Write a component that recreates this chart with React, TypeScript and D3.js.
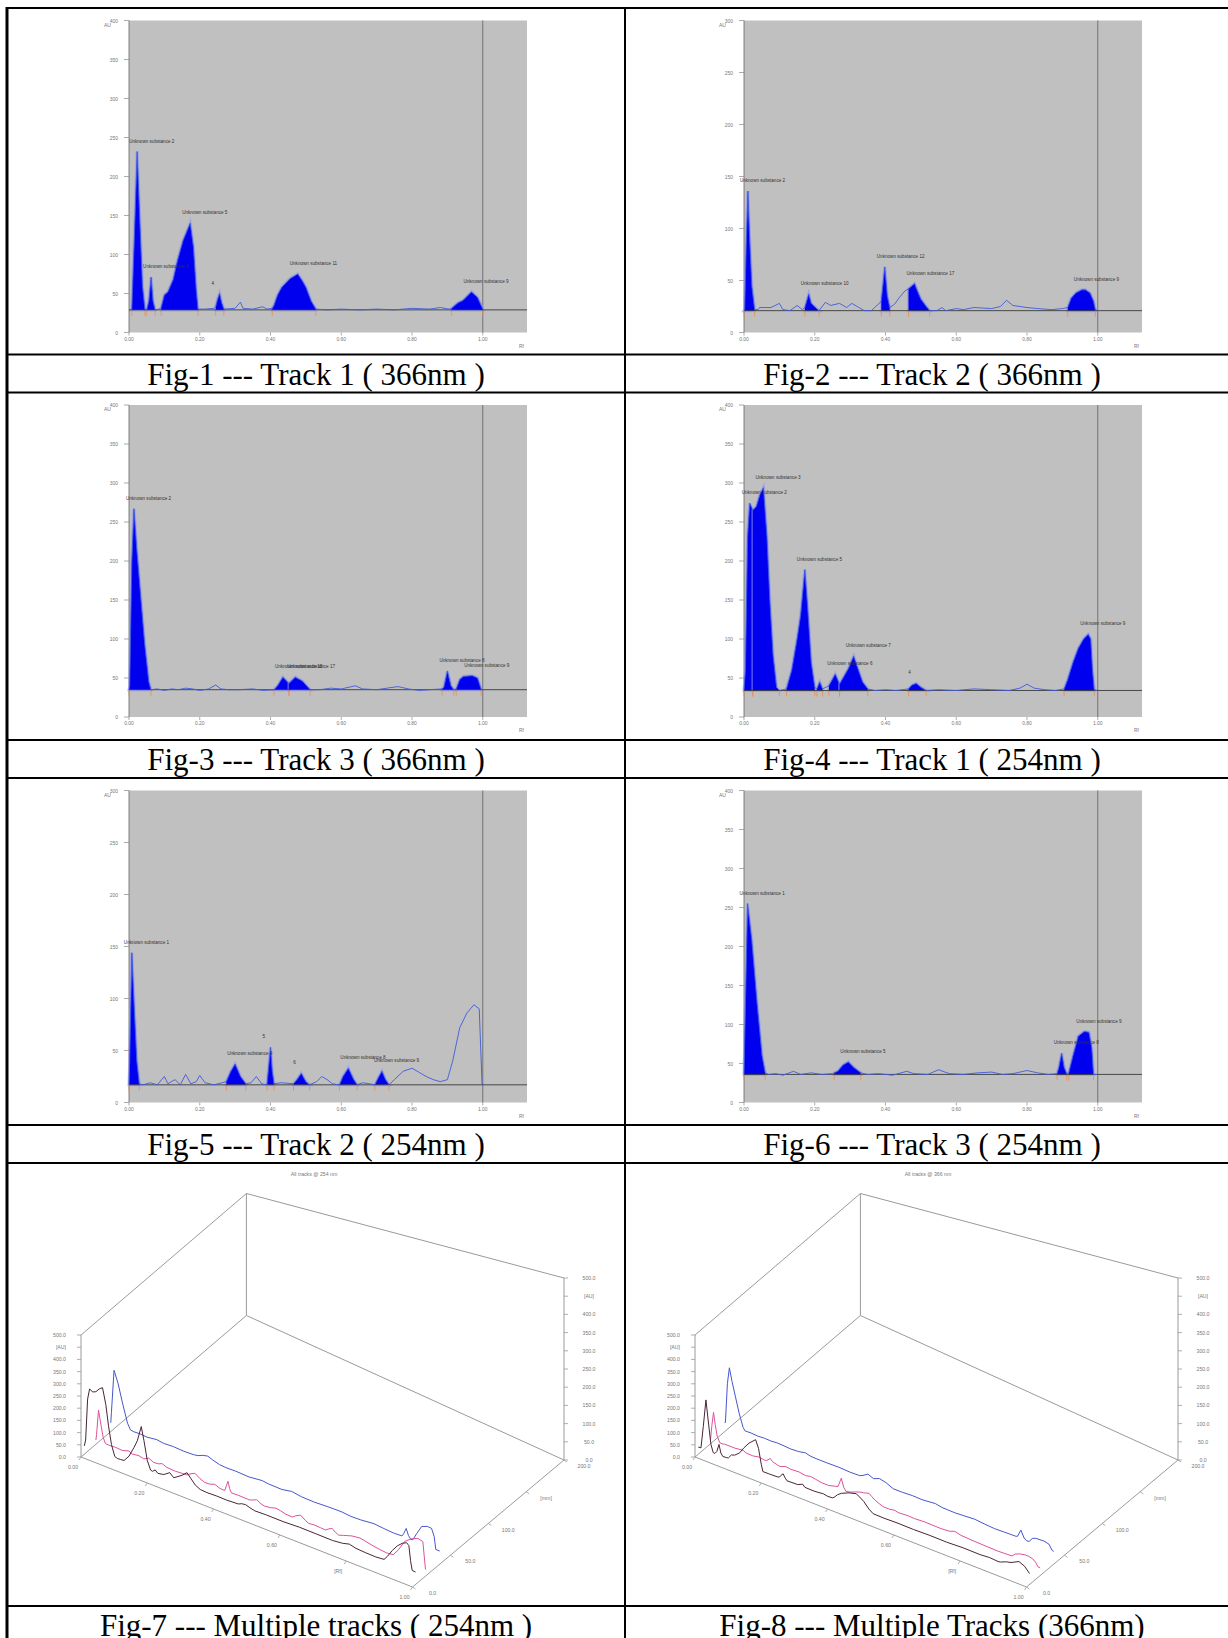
import React from 'react';
import * as d3 from 'd3';

type Pt = [number, number];
type Peak = { from: number; to: number; label: string };

const rfTicks = [0, 0.2, 0.4, 0.6, 0.8, 1.0];

// Fig-1 --- Track 1 (366nm)
const track1_366: Pt[] = [
  [0.0, 29], [0.008, 30], [0.015, 120], [0.023, 232], [0.03, 150], [0.038, 60], [0.045, 30],
  [0.05, 29], [0.056, 40], [0.0625, 71], [0.068, 40], [0.074, 29], [0.085, 30], [0.091, 32],
  [0.1, 48], [0.11, 52], [0.125, 68], [0.137, 92], [0.153, 118], [0.173, 140], [0.182, 110],
  [0.19, 55], [0.195, 30], [0.215, 30], [0.24, 31], [0.245, 33], [0.25, 42], [0.256, 50],
  [0.262, 38], [0.268, 30], [0.3, 31], [0.315, 39], [0.322, 31], [0.35, 30], [0.378, 33],
  [0.39, 30], [0.405, 31], [0.41, 35], [0.42, 48], [0.432, 58], [0.455, 69], [0.477, 75],
  [0.49, 66], [0.5, 58], [0.515, 40], [0.528, 30], [0.56, 29], [0.6, 30], [0.65, 29], [0.7, 30],
  [0.75, 29], [0.8, 31], [0.85, 30], [0.88, 32], [0.905, 30], [0.912, 31], [0.93, 38],
  [0.944, 41], [0.968, 52], [0.985, 45], [0.995, 35], [1.0, 30],
];
const peaks1_366: Peak[] = [
  { from: 0.008, to: 0.045, label: 'Unknown substance 2' },
  { from: 0.05, to: 0.074, label: 'Unknown substance 3' },
  { from: 0.091, to: 0.195, label: 'Unknown substance 5' },
  { from: 0.245, to: 0.268, label: '4' },
  { from: 0.405, to: 0.528, label: 'Unknown substance 11' },
  { from: 0.912, to: 1.0, label: 'Unknown substance 9' },
];

// Fig-2 --- Track 2 (366nm)
const track2_366: Pt[] = [
  [0.0, 21], [0.002, 22], [0.006, 80], [0.011, 136], [0.016, 90], [0.022, 45], [0.03, 22],
  [0.04, 22], [0.044, 24], [0.076, 24], [0.1, 28], [0.11, 22], [0.13, 21], [0.15, 26],
  [0.165, 22], [0.172, 24], [0.183, 37], [0.19, 28], [0.205, 23], [0.212, 21], [0.23, 29],
  [0.245, 26], [0.27, 28], [0.29, 24], [0.305, 28], [0.32, 25], [0.34, 21], [0.36, 21],
  [0.388, 30], [0.398, 63], [0.405, 35], [0.412, 24], [0.425, 27], [0.44, 34], [0.455, 40],
  [0.465, 42], [0.472, 44], [0.482, 47], [0.49, 40], [0.5, 32], [0.515, 25], [0.525, 21],
  [0.545, 21], [0.56, 24], [0.57, 21], [0.6, 23], [0.62, 22], [0.65, 24], [0.7, 23],
  [0.725, 25], [0.742, 31], [0.76, 26], [0.8, 24], [0.83, 23], [0.87, 22], [0.9, 23],
  [0.915, 24], [0.925, 33], [0.938, 38], [0.955, 41], [0.965, 41], [0.978, 38], [0.988, 30],
  [0.993, 22], [1.0, 21],
];
const peaks2_366: Peak[] = [
  { from: 0.0, to: 0.03, label: 'Unknown substance 2' },
  { from: 0.172, to: 0.212, label: 'Unknown substance 10' },
  { from: 0.388, to: 0.412, label: 'Unknown substance 12' },
  { from: 0.465, to: 0.525, label: 'Unknown substance 17' },
  { from: 0.915, to: 0.993, label: 'Unknown substance 9' },
];

// Fig-3 --- Track 3 (366nm)
const track3_366: Pt[] = [
  [0.0, 35], [0.002, 40], [0.008, 200], [0.014, 267], [0.022, 215], [0.032, 160], [0.044, 95],
  [0.056, 45], [0.062, 35], [0.08, 36], [0.1, 34], [0.12, 36], [0.14, 35], [0.16, 37],
  [0.18, 36], [0.2, 34], [0.225, 36], [0.245, 41], [0.26, 36], [0.28, 35], [0.31, 35],
  [0.35, 36], [0.38, 34], [0.41, 35], [0.42, 40], [0.435, 51], [0.452, 43], [0.47, 51],
  [0.49, 46], [0.512, 35], [0.54, 35], [0.57, 37], [0.6, 36], [0.64, 40], [0.66, 36],
  [0.7, 35], [0.73, 37], [0.76, 39], [0.79, 36], [0.82, 34], [0.85, 35], [0.885, 36],
  [0.89, 38], [0.9, 59], [0.91, 40], [0.918, 35], [0.925, 36], [0.935, 48], [0.945, 52],
  [0.97, 53], [0.985, 50], [0.995, 36], [1.0, 35],
];
const peaks3_366: Peak[] = [
  { from: 0.0, to: 0.062, label: 'Unknown substance 2' },
  { from: 0.41, to: 0.452, label: 'Unknown substance 15' },
  { from: 0.452, to: 0.512, label: 'Unknown substance 17' },
  { from: 0.885, to: 0.918, label: 'Unknown substance 8' },
  { from: 0.925, to: 0.995, label: 'Unknown substance 9' },
];

// Fig-4 --- Track 1 (254nm)
const track1_254: Pt[] = [
  [0.0, 34], [0.004, 60], [0.01, 230], [0.016, 274], [0.025, 265], [0.035, 270], [0.045, 285],
  [0.055, 294], [0.065, 230], [0.073, 150], [0.082, 80], [0.092, 38], [0.1, 34], [0.11, 35],
  [0.12, 36], [0.135, 60], [0.15, 100], [0.16, 130], [0.172, 189], [0.18, 140], [0.19, 70],
  [0.2, 38], [0.206, 36], [0.214, 45], [0.222, 36], [0.24, 40], [0.258, 55], [0.27, 42],
  [0.28, 50], [0.295, 62], [0.31, 78], [0.322, 62], [0.335, 45], [0.35, 36], [0.37, 34],
  [0.4, 35], [0.43, 34], [0.465, 36], [0.475, 41], [0.487, 43], [0.5, 38], [0.515, 34],
  [0.55, 35], [0.6, 34], [0.65, 36], [0.7, 35], [0.75, 34], [0.78, 37], [0.8, 42], [0.82, 37],
  [0.85, 35], [0.88, 34], [0.905, 36], [0.915, 48], [0.93, 70], [0.945, 88], [0.96, 100],
  [0.973, 106], [0.98, 100], [0.985, 60], [0.99, 35], [1.0, 34],
];
const peaks1_254: Peak[] = [
  { from: 0.0, to: 0.025, label: 'Unknown substance 2' },
  { from: 0.025, to: 0.1, label: 'Unknown substance 3' },
  { from: 0.12, to: 0.2, label: 'Unknown substance 5' },
  { from: 0.206, to: 0.222, label: '' },
  { from: 0.24, to: 0.27, label: 'Unknown substance 6' },
  { from: 0.27, to: 0.35, label: 'Unknown substance 7' },
  { from: 0.465, to: 0.515, label: '4' },
  { from: 0.905, to: 0.99, label: 'Unknown substance 9' },
];

// Fig-5 --- Track 2 (254nm)
const track2_254: Pt[] = [
  [0.0, 17], [0.002, 40], [0.008, 144], [0.015, 90], [0.022, 40], [0.029, 18], [0.04, 17],
  [0.06, 19], [0.08, 17], [0.1, 25], [0.11, 18], [0.13, 22], [0.145, 17], [0.16, 27],
  [0.175, 18], [0.19, 20], [0.2, 26], [0.215, 19], [0.24, 17], [0.275, 20], [0.288, 30],
  [0.3, 37], [0.315, 25], [0.33, 18], [0.345, 19], [0.36, 25], [0.375, 18], [0.39, 17],
  [0.395, 35], [0.4, 53], [0.405, 30], [0.41, 18], [0.43, 19], [0.465, 18], [0.475, 22],
  [0.487, 28], [0.5, 20], [0.51, 17], [0.53, 20], [0.545, 25], [0.56, 22], [0.575, 18],
  [0.595, 17], [0.605, 25], [0.62, 33], [0.635, 22], [0.645, 17], [0.66, 19], [0.68, 18],
  [0.695, 17], [0.705, 24], [0.715, 30], [0.725, 22], [0.735, 17], [0.75, 22], [0.775, 30],
  [0.8, 33], [0.82, 29], [0.84, 25], [0.86, 22], [0.88, 20], [0.9, 22], [0.915, 40],
  [0.935, 72], [0.955, 86], [0.975, 94], [0.99, 90], [0.998, 17], [1.0, 17],
];
const peaks2_254: Peak[] = [
  { from: 0.0, to: 0.029, label: 'Unknown substance 1' },
  { from: 0.275, to: 0.33, label: 'Unknown substance 4' },
  { from: 0.39, to: 0.41, label: '5' },
  { from: 0.465, to: 0.51, label: '6' },
  { from: 0.595, to: 0.645, label: 'Unknown substance 8' },
  { from: 0.695, to: 0.735, label: 'Unknown substance 9' },
];

// Fig-6 --- Track 3 (254nm)
const track3_254: Pt[] = [
  [0.0, 36], [0.002, 80], [0.01, 255], [0.022, 208], [0.037, 127], [0.051, 60], [0.06, 38],
  [0.07, 36], [0.09, 37], [0.11, 35], [0.14, 40], [0.16, 36], [0.19, 38], [0.22, 36],
  [0.25, 37], [0.255, 38], [0.265, 40], [0.28, 48], [0.295, 52], [0.31, 45], [0.33, 38],
  [0.35, 36], [0.38, 37], [0.42, 35], [0.46, 40], [0.48, 37], [0.52, 36], [0.55, 42],
  [0.58, 37], [0.62, 36], [0.66, 38], [0.7, 39], [0.73, 36], [0.76, 37], [0.8, 41], [0.83, 38],
  [0.86, 36], [0.885, 37], [0.89, 45], [0.898, 63], [0.905, 45], [0.912, 37], [0.918, 38],
  [0.93, 60], [0.945, 85], [0.962, 91], [0.975, 90], [0.983, 70], [0.988, 36], [1.0, 36],
];
const peaks3_254: Peak[] = [
  { from: 0.0, to: 0.06, label: 'Unknown substance 1' },
  { from: 0.255, to: 0.33, label: 'Unknown substance 5' },
  { from: 0.885, to: 0.912, label: 'Unknown substance 8' },
  { from: 0.918, to: 0.988, label: 'Unknown substance 9' },
];

// 3D views: track positions on the plate (mm) and axis labels
const trackPositions = [4, 18, 36];
const trackColors = ['#4a2436', '#e0509c', '#4656cc'];
const auTicks3d = d3.range(0, 501, 50);
const rfLabels3d = ['0.00', '0.20', '0.40', '0.60', '[Rf]', '1.00'];
const mmTicks3d = [0, 50, 100, 150, 200];
const mmLabels3d = ['0.0', '50.0', '100.0', '[mm]', '200.0'];

const captions = [
  'Fig-1 --- Track 1 ( 366nm )', 'Fig-2 --- Track 2 ( 366nm )',
  'Fig-3 --- Track 3 ( 366nm )', 'Fig-4 --- Track 1 ( 254nm )',
  'Fig-5 --- Track 2 ( 254nm )', 'Fig-6 --- Track 3 ( 254nm )',
  'Fig-7 --- Multiple tracks ( 254nm )', 'Fig-8 --- Multiple Tracks (366nm)',
];

const SANS = 'Liberation Sans, Arial, sans-serif';
const SERIF = 'Liberation Serif, Times New Roman, serif';

function Chromatogram({ left, top, trace, peaks, baseline, yMax }: {
  left: number; top: number; trace: Pt[]; peaks: Peak[]; baseline: number; yMax: number;
}) {
  const W = 398, H = 312;
  const x = d3.scaleLinear().domain([0, 1.125]).range([left, left + W]);
  const y = d3.scaleLinear().domain([0, yMax]).range([top + H, top]);
  const yTicks = d3.range(0, yMax + 1, 50);
  const line = d3.line<Pt>().x(d => x(d[0])).y(d => y(d[1]));
  const area = d3.area<Pt>().x(d => x(d[0])).y0(y(baseline)).y1(d => y(d[1]));
  const yb = y(baseline);

  return (
    <g>
      <rect x={left} y={top} width={W} height={H} fill="#c0c0c0" />
      <line x1={left} x2={left} y1={top} y2={top + H} stroke="#666" strokeWidth={0.8} />
      {yTicks.map(t => (
        <g key={t}>
          <line x1={left - 5} x2={left} y1={y(t)} y2={y(t)} stroke="#888" strokeWidth={0.7} />
          <text x={left - 11} y={y(t) + 2} fontSize={5} textAnchor="end" fill="#777" fontFamily={SANS}>{t}</text>
        </g>
      ))}
      <text x={left - 25} y={top + 6} fontSize={5} fill="#777" fontFamily={SANS}>AU</text>
      {rfTicks.map(t => (
        <g key={t}>
          <line x1={x(t)} x2={x(t)} y1={top + H} y2={top + H + 3} stroke="#888" strokeWidth={0.7} />
          <text x={x(t)} y={top + H + 8} fontSize={5} textAnchor="middle" fill="#777" fontFamily={SANS}>{t.toFixed(2)}</text>
        </g>
      ))}
      <text x={left + W - 3} y={top + H + 15} fontSize={5} textAnchor="end" fill="#777" fontFamily={SANS}>Rf</text>
      <line x1={x(1)} x2={x(1)} y1={top} y2={top + H} stroke="#6a6a6a" strokeWidth={0.9} />
      {peaks.map((p, i) => {
        const pts = trace.filter(d => d[0] >= p.from && d[0] <= p.to);
        return (
          <g key={i}>
            <path d={area(pts) || ''} fill="#8a8aff" stroke="#8a8aff" strokeWidth={3} opacity={0.55} />
            <path d={area(pts) || ''} fill="#0000ee" />
          </g>
        );
      })}
      <line x1={left} x2={left + W} y1={yb} y2={yb} stroke="#3a3a3a" strokeWidth={0.9} />
      <path d={line(trace) || ''} fill="none" stroke="#3d5ae0" strokeWidth={0.9} />
      {peaks.map((p, i) => {
        const pts = trace.filter(d => d[0] >= p.from && d[0] <= p.to);
        const top1 = pts.reduce((a, b) => (b[1] > a[1] ? b : a), pts[0]);
        return (
          <g key={'l' + i}>
            <line x1={x(p.from)} x2={x(p.from)} y1={yb + 1} y2={yb + 6} stroke="#f08a4a" strokeWidth={0.8} />
            <line x1={x(p.to)} x2={x(p.to)} y1={yb + 1} y2={yb + 6} stroke="#f08a4a" strokeWidth={0.8} />
            {p.label && (
              <text x={x(top1[0]) - 8} y={y(top1[1]) - 9} fontSize={4.6} fill="#333" fontFamily={SANS}>{p.label}</text>
            )}
          </g>
        );
      })}
    </g>
  );
}

function Tracks3D({ ax, ay, title, series }: { ax: number; ay: number; title: string; series: Pt[][] }) {
  // floor corners relative to the origin (Rf 0, 0 mm): B = (Rf 1, 0 mm), C = (Rf 1, 200 mm), D = (Rf 0, 200 mm)
  const cB: [number, number] = [331.5, 130];
  const cC: [number, number] = [483, 3];
  const cD: [number, number] = [165.4, -141.5];
  const hgt = d3.scaleLinear().domain([0, 1]).range([122, 182]);
  const z = d3.scaleLinear().domain([0, 500]).range([0, 1]);
  const s = d3.scaleLinear().domain([0, 200]).range([0, 1]);
  const P = (r: number, t: number, v: number): [number, number] => {
    const k = s(t);
    const fx = cB[0] * r * (1 - k) + cC[0] * r * k + cD[0] * (1 - r) * k;
    const fy = cB[1] * r * (1 - k) + cC[1] * r * k + cD[1] * (1 - r) * k;
    return [ax + fx, ay + fy - z(v) * hgt(r)];
  };
  const seg = (a: [number, number], b: [number, number], k: string) => (
    <line key={k} x1={a[0]} y1={a[1]} x2={b[0]} y2={b[1]} stroke="#9a9a9a" strokeWidth={1} />
  );
  const A = P(0, 0, 0), B = P(1, 0, 0), C = P(1, 200, 0), D = P(0, 200, 0);
  const At = P(0, 0, 500), Ct = P(1, 200, 500), Dt = P(0, 200, 500);
  const txt = { fontSize: 5.2, fill: '#777', fontFamily: SANS } as const;

  return (
    <g>
      <text x={ax + 233} y={1176} textAnchor="middle" {...txt}>{title}</text>
      {seg(A, At, 'a')}{seg(At, Dt, 'b')}{seg(Dt, Ct, 'c')}{seg(Ct, C, 'd')}
      {seg(Dt, D, 'e')}{seg(D, C, 'f')}{seg(A, D, 'g')}{seg(A, B, 'h')}{seg(B, C, 'i')}
      {auTicks3d.map(v => {
        const l = P(0, 0, v), r = P(1, 200, v);
        const lab = v === 450 ? '[AU]' : v.toFixed(1);
        return (
          <g key={v}>
            <line x1={l[0] - 4} x2={l[0]} y1={l[1]} y2={l[1]} stroke="#9a9a9a" strokeWidth={0.8} />
            <text x={l[0] - 15} y={l[1] + 2} textAnchor="end" {...txt}>{lab}</text>
            <line x1={r[0]} x2={r[0] + 4} y1={r[1]} y2={r[1]} stroke="#9a9a9a" strokeWidth={0.8} />
            <text x={r[0] + 25} y={r[1] + 2} textAnchor="middle" {...txt}>{lab}</text>
          </g>
        );
      })}
      {rfTicks.map((r, i) => {
        const p = P(r, 0, 0);
        return (
          <g key={'rf' + r}>
            <line x1={p[0]} x2={p[0] - 2} y1={p[1]} y2={p[1] + 3} stroke="#9a9a9a" strokeWidth={0.8} />
            <text x={p[0] - 8} y={p[1] + 12} textAnchor="middle" {...txt}>{rfLabels3d[i]}</text>
          </g>
        );
      })}
      {mmTicks3d.map((t, i) => {
        const p = P(1, t, 0);
        return (
          <g key={'mm' + t}>
            <line x1={p[0]} x2={p[0] + 3} y1={p[1]} y2={p[1] + 2} stroke="#9a9a9a" strokeWidth={0.8} />
            <text x={p[0] + 20} y={p[1] + 8} textAnchor="middle" {...txt}>{mmLabels3d[i]}</text>
          </g>
        );
      })}
      {series.map((sr, i) => {
        const t = trackPositions[i];
        const line = d3.line<Pt>().x(d => P(d[0], t, d[1])[0]).y(d => P(d[0], t, d[1])[1]);
        return <path key={'s' + i} d={line(sr) || ''} fill="none" stroke={trackColors[i]} strokeWidth={1} />;
      }).reverse()}
    </g>
  );
}

export default function App() {
  const rowLines = [8, 354.5, 392.5, 740, 778, 1125, 1163, 1606];
  const capRows = [354.5, 740, 1125, 1606];
  const colCenters = [316, 932];
  const plotLeft = [129, 744];
  const plotTop = [20.5, 405, 790.5];
  const panels = [
    { trace: track1_366, peaks: peaks1_366, baseline: 29, yMax: 400 },
    { trace: track2_366, peaks: peaks2_366, baseline: 21, yMax: 300 },
    { trace: track3_366, peaks: peaks3_366, baseline: 35, yMax: 400 },
    { trace: track1_254, peaks: peaks1_254, baseline: 34, yMax: 400 },
    { trace: track2_254, peaks: peaks2_254, baseline: 17, yMax: 300 },
    { trace: track3_254, peaks: peaks3_254, baseline: 36, yMax: 400 },
  ];

  return (
    <svg width={1228} height={1638} style={{ position: 'absolute', left: 0, top: 0, background: '#fff' }}>
      <rect width={1228} height={1638} fill="#fff" />
      {panels.map((p, i) => (
        <Chromatogram key={i} left={plotLeft[i % 2]} top={plotTop[Math.floor(i / 2)]} {...p} />
      ))}
      <Tracks3D ax={81} ay={1457} title="All tracks @ 254 nm" series={[track1_254, track2_254, track3_254]} />
      <Tracks3D ax={695} ay={1457} title="All tracks @ 366 nm" series={[track1_366, track2_366, track3_366]} />
      {rowLines.map(yy => (
        <line key={yy} x1={6} x2={1228} y1={yy} y2={yy} stroke="#000" strokeWidth={2} />
      ))}
      <line x1={7} x2={7} y1={7} y2={1638} stroke="#000" strokeWidth={3} />
      <line x1={625} x2={625} y1={7} y2={1638} stroke="#000" strokeWidth={2} />
      {captions.map((c, i) => (
        <text key={c} x={colCenters[i % 2]} y={capRows[Math.floor(i / 2)] + 30} textAnchor="middle"
          fontSize={31} fontFamily={SERIF} fill="#000">{c}</text>
      ))}
    </svg>
  );
}
